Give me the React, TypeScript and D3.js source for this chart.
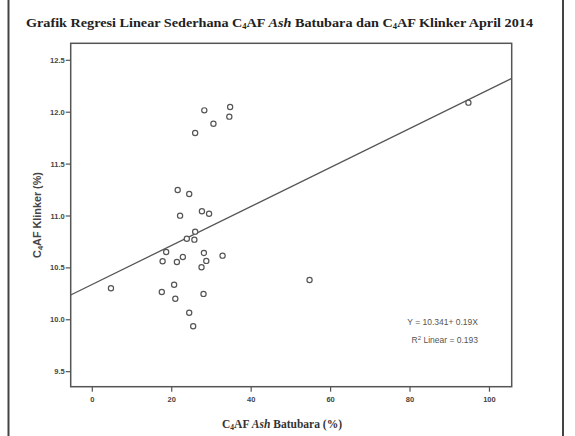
import React from "react";
import * as d3 from "d3";

const ashX = [28.2, 34.7, 34.5, 30.5, 25.9, 21.5, 24.4, 22.1, 27.6, 29.4, 25.9, 23.8, 25.7, 18.6, 17.7, 22.8, 21.3, 28.1, 32.8, 28.7, 27.5, 4.7, 20.6, 17.5, 20.9, 28.0, 24.4, 25.4, 54.7, 94.7];
const klinkerY = [12.018, 12.05, 11.957, 11.889, 11.8, 11.25, 11.212, 11.003, 11.045, 11.022, 10.849, 10.781, 10.772, 10.653, 10.564, 10.605, 10.557, 10.644, 10.618, 10.567, 10.506, 10.303, 10.338, 10.268, 10.203, 10.249, 10.068, 9.937, 10.383, 12.092];
const xTicks = [0, 20, 40, 60, 80, 100];
const yTicks = [9.5, 10.0, 10.5, 11.0, 11.5, 12.0, 12.5];
const intercept = 10.341;
const slope = 0.0188;
const eqLabel = "Y = 10.341+ 0.19X";
const r2Label = " Linear = 0.193";

const W = 575, H = 436;
const plot = { left: 70.7, right: 511.7, top: 43.3, bottom: 386.7 };

export default function App() {
  const x = d3.scaleLinear().domain([-5.44, 105.6]).range([plot.left, plot.right]);
  const y = d3.scaleLinear().domain([9.355, 12.664]).range([plot.bottom, plot.top]);
  const [x0, x1] = x.domain();
  const line = d3.line<number>().x((d) => x(d)).y((d) => y(intercept + slope * d));
  const sans = "'Liberation Sans', Arial, sans-serif";
  const serif = "'Liberation Serif', 'Times New Roman', serif";
  const axisColor = "#555";
  return (
    <svg width={W} height={H} style={{ position: "absolute", left: 0, top: 0, background: "#fff" }}>
      <rect x={0} y={0} width={W} height={H} fill="#fff" />
      {/* outer frame */}
      <rect x={8.5} y={-10} width={554.5} height={H + 20} fill="none" stroke="#444" strokeWidth={2} />
      {/* title */}
      <text x={26} y={27} fontFamily={serif} fontWeight="bold" fontSize={12.5} fill="#222" textLength={507} lengthAdjust="spacingAndGlyphs">
        Grafik Regresi Linear Sederhana C<tspan fontSize={7.5} dy={1.5}>4</tspan><tspan dy={-1.5}>AF </tspan><tspan fontStyle="italic">Ash</tspan> Batubara dan C<tspan fontSize={7.5} dy={1.5}>4</tspan><tspan dy={-1.5}>AF Klinker April 2014</tspan>
      </text>
      {/* plot frame */}
      <rect x={plot.left} y={plot.top} width={plot.right - plot.left} height={plot.bottom - plot.top} fill="#fff" stroke={axisColor} strokeWidth={1.5} />
      {/* y ticks */}
      {yTicks.map((t) => (
        <g key={"y" + t}>
          <line x1={plot.left - 5} x2={plot.left} y1={y(t)} y2={y(t)} stroke={axisColor} strokeWidth={1.2} />
          <text x={plot.left - 6} y={y(t)} dy="0.35em" textAnchor="end" fontFamily={sans} fontWeight="bold" fontSize={7.5} fill="#444">
            {t.toFixed(1)}
          </text>
        </g>
      ))}
      {/* x ticks */}
      {xTicks.map((t) => (
        <g key={"x" + t}>
          <line x1={x(t)} x2={x(t)} y1={plot.bottom} y2={plot.bottom + 5} stroke={axisColor} strokeWidth={1.2} />
          <text x={x(t)} y={plot.bottom + 15} textAnchor="middle" fontFamily={sans} fontWeight="bold" fontSize={7.5} fill="#444">
            {t}
          </text>
        </g>
      ))}
      {/* regression line */}
      <path d={line([x0, x1]) || ""} fill="none" stroke="#555" strokeWidth={1.3} />
      {/* points */}
      {ashX.map((v, i) => (
        <circle key={i} cx={x(v)} cy={y(klinkerY[i])} r={2.6} fill="#fff" stroke="#555" strokeWidth={1.2} />
      ))}
      {/* annotations */}
      <text x={478} y={325} textAnchor="end" fontFamily={sans} fontSize={8.5} fill="#555">{eqLabel}</text>
      <text x={478} y={343} textAnchor="end" fontFamily={sans} fontSize={8.5} fill="#555">
        R<tspan fontSize={6} dy={-3.5}>2</tspan><tspan dy={3.5}>{r2Label}</tspan>
      </text>
      {/* y axis title */}
      <text transform={`translate(41, ${(plot.top + plot.bottom) / 2}) rotate(-90)`} textAnchor="middle" fontFamily={sans} fontWeight="bold" fontSize={10.8} fill="#444">
        C<tspan fontSize={7.5} dy={2}>4</tspan><tspan dy={-2}>AF Klinker (%)</tspan>
      </text>
      {/* x axis title */}
      <text x={282} y={428} textAnchor="middle" fontFamily={serif} fontWeight="bold" fontSize={11.5} fill="#333">
        C<tspan fontSize={7.5} dy={2}>4</tspan><tspan dy={-2}>AF </tspan><tspan fontStyle="italic">Ash</tspan> Batubara (%)
      </text>
    </svg>
  );
}
